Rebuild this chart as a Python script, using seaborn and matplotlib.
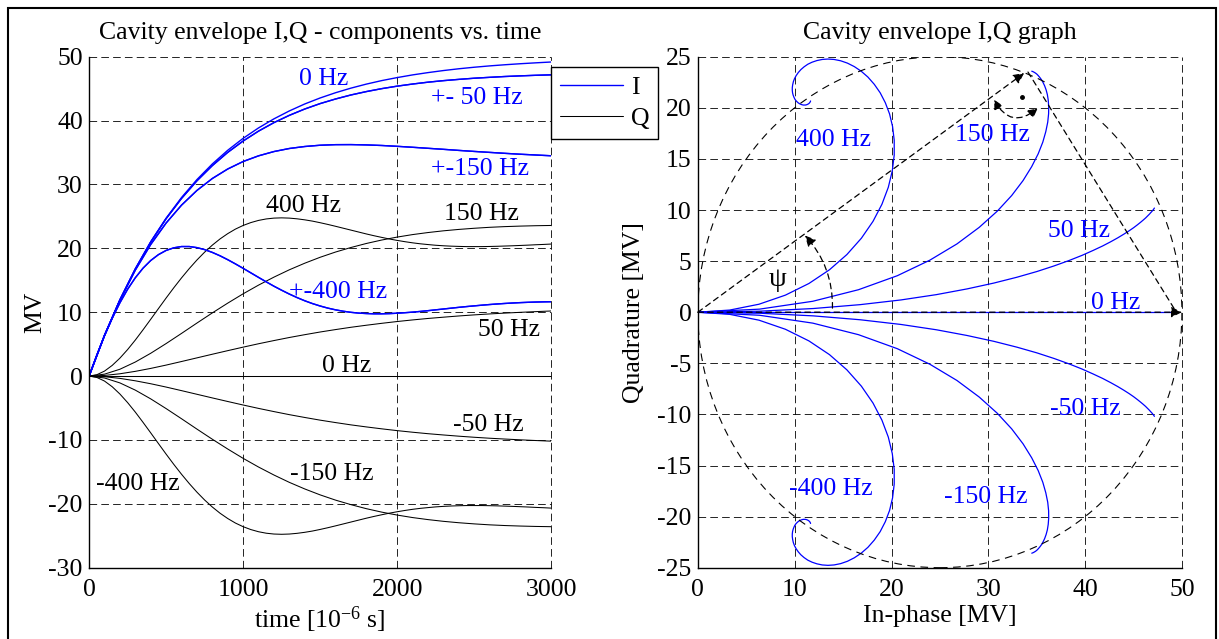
import matplotlib
matplotlib.use("Agg")
import matplotlib.pyplot as plt
import numpy as np
import pandas as pd
import seaborn as sns
from matplotlib.lines import Line2D
from matplotlib.patches import Ellipse, Rectangle

# ---------------- data ----------------
time_us = [0, 100, 200, 300, 400, 500, 600, 700, 800, 900, 1000,
           1100, 1200, 1300, 1400, 1500, 1600, 1700, 1800, 1900, 2000,
           2100, 2200, 2300, 2400, 2500, 2600, 2700, 2800, 2900, 3000]
time_us_fine = [0, 50, 100, 150, 200, 250, 300, 350, 400, 450, 500, 550, 600,
                650, 700, 750, 800, 850, 900, 950, 1000, 1050, 1100, 1150, 1200,
                1250, 1300, 1350, 1400, 1450, 1500, 1550, 1600, 1650, 1700, 1750,
                1800, 1850, 1900, 1950, 2000, 2050, 2100, 2150, 2200, 2250, 2300,
                2350, 2400, 2450, 2500, 2550, 2600, 2650, 2700, 2750, 2800, 2850,
                2900, 2950, 3000]

I_0hz = [0, 6.38, 11.94, 16.79, 21.03, 24.72, 27.95, 30.76, 33.21, 35.35, 37.22,
         38.85, 40.27, 41.51, 42.60, 43.54, 44.36, 45.08, 45.71, 46.26, 46.73,
         47.15, 47.51, 47.83, 48.11, 48.35, 48.56, 48.74, 48.90, 49.04, 49.17]
Q_0hz = [0.0] * 31

I_50hz = [0, 6.38, 11.93, 16.77, 20.98, 24.64, 27.81, 30.57, 32.95, 35.02, 36.80,
          38.35, 39.68, 40.82, 41.81, 42.66, 43.38, 44.01, 44.54, 45.00, 45.39,
          45.72, 46.01, 46.25, 46.45, 46.63, 46.77, 46.90, 47.00, 47.09, 47.16]
Q_50hz = [0, 0.10, 0.36, 0.74, 1.20, 1.72, 2.28, 2.85, 3.42, 3.98, 4.53,
          5.06, 5.56, 6.04, 6.48, 6.90, 7.28, 7.64, 7.96, 8.26, 8.54,
          8.79, 9.02, 9.22, 9.41, 9.58, 9.73, 9.86, 9.98, 10.09, 10.19]

I_150hz = [0, 6.37, 11.87, 16.59, 20.60, 23.96, 26.76, 29.06, 30.93, 32.42, 33.59,
           34.48, 35.15, 35.63, 35.94, 36.14, 36.23, 36.24, 36.19, 36.10, 35.97,
           35.82, 35.66, 35.50, 35.33, 35.17, 35.02, 34.87, 34.73, 34.61, 34.49]
Q_150hz = [0, 0.30, 1.07, 2.20, 3.57, 5.09, 6.68, 8.30, 9.89, 11.42, 12.88,
           14.24, 15.49, 16.64, 17.67, 18.60, 19.42, 20.13, 20.76, 21.30, 21.76,
           22.15, 22.47, 22.74, 22.96, 23.14, 23.29, 23.40, 23.48, 23.54, 23.58]

I_400hz = [0, 3.29, 6.31, 9.04, 11.47, 13.59, 15.39, 16.89, 18.09, 19.01, 19.67,
           20.08, 20.28, 20.28, 20.11, 19.80, 19.36, 18.83, 18.22, 17.56, 16.87,
           16.16, 15.45, 14.75, 14.07, 13.44, 12.84, 12.29, 11.79, 11.35, 10.97,
           10.64, 10.37, 10.15, 9.98, 9.86, 9.79, 9.75, 9.75, 9.78, 9.84,
           9.92, 10.01, 10.12, 10.24, 10.37, 10.50, 10.63, 10.76, 10.88, 10.99,
           11.10, 11.20, 11.29, 11.37, 11.44, 11.50, 11.55, 11.59, 11.62, 11.64]
Q_400hz = [0, 0.21, 0.78, 1.67, 2.81, 4.15, 5.64, 7.24, 8.89, 10.56, 12.22,
           13.83, 15.37, 16.82, 18.17, 19.40, 20.50, 21.47, 22.30, 23.01, 23.58,
           24.03, 24.37, 24.60, 24.73, 24.77, 24.73, 24.62, 24.46, 24.26, 24.01,
           23.74, 23.45, 23.15, 22.85, 22.55, 22.25, 21.97, 21.71, 21.46, 21.24,
           21.04, 20.86, 20.71, 20.59, 20.48, 20.40, 20.34, 20.30, 20.27, 20.27,
           20.27, 20.29, 20.32, 20.36, 20.40, 20.45, 20.50, 20.56, 20.61, 20.67]

detunings = ["0 Hz", "50 Hz", "-50 Hz", "150 Hz", "-150 Hz", "400 Hz", "-400 Hz"]
time_series = [time_us, time_us, time_us, time_us, time_us, time_us_fine, time_us_fine]
I_series = [I_0hz, I_50hz, I_50hz, I_150hz, I_150hz, I_400hz, I_400hz]
Q_series = [Q_0hz, Q_50hz, [-q for q in Q_50hz], Q_150hz, [-q for q in Q_150hz],
            Q_400hz, [-q for q in Q_400hz]]

left_xticks = [0, 1000, 2000, 3000]
left_yticks = [-30, -20, -10, 0, 10, 20, 30, 40, 50]
right_xticks = [0, 10, 20, 30, 40, 50]
right_yticks = [-25, -20, -15, -10, -5, 0, 5, 10, 15, 20, 25]

frames = []
for name, tv, iv, qv in zip(detunings, time_series, I_series, Q_series):
    frames.append(pd.DataFrame({"time": tv, "I": iv, "Q": qv, "detuning": name}))
df = pd.concat(frames, ignore_index=True)

# ---------------- style ----------------
sns.set_theme(style="white")
plt.rcParams.update({
    "font.family": ["Liberation Serif", "DejaVu Serif"],
    "font.size": 18.5,
    "mathtext.fontset": "custom",
    "mathtext.rm": "Liberation Serif",
    "mathtext.it": "Liberation Serif:italic",
    "mathtext.default": "regular",
    "axes.unicode_minus": False,
    "lines.scale_dashes": False,
    "text.color": "black",
    "axes.labelcolor": "black",
    "xtick.color": "black",
    "ytick.color": "black",
})

BLUE = "#0000ff"
FS = 18.5
W, H = 1219, 639
fig = plt.figure(figsize=(W / 100, H / 100), dpi=100)
fig.patch.set_facecolor("white")

ax1 = fig.add_axes([89.1 / W, 1 - 567.7 / H, 462.1 / W, 511 / H])
ax2 = fig.add_axes([697.9 / W, 1 - 567.7 / H, 484 / W, 511 / H])

grid_kw = dict(color="black", linewidth=0.6, linestyle=(0, (5.5, 3.0)))

for ax in (ax1, ax2):
    ax.set_facecolor("white")
    for s in ("top", "right"):
        ax.spines[s].set_visible(False)
    for s in ("left", "bottom"):
        ax.spines[s].set_color("black")
        ax.spines[s].set_linewidth(1.0)
    ax.grid(True, **grid_kw)
    ax.set_axisbelow(True)
    ax.tick_params(axis="both", length=0, labelsize=FS)
    ax.tick_params(axis="y", pad=4.5)
    ax.tick_params(axis="x", pad=8)

# ---------------- left: I, Q vs time ----------------
sns.lineplot(data=df, x="time", y="Q", units="detuning", estimator=None,
             color="black", linewidth=0.75, ax=ax1, legend=False)
sns.lineplot(data=df, x="time", y="I", units="detuning", estimator=None,
             color=BLUE, linewidth=1.0, ax=ax1, legend=False)
ax1.set_xlim(0, 3000)
ax1.set_ylim(-30, 50)
ax1.set_xticks(left_xticks)
ax1.set_yticks(left_yticks)
ax1.set_title("Cavity envelope I,Q - components vs. time", fontsize=FS, pad=12.5)
ax1.set_ylabel("MV", fontsize=FS)
ax1.set_xlabel("time [10$^{-6}$ s]", fontsize=FS)
ax1.yaxis.set_label_coords(-0.093, 0.5)
ax1.xaxis.set_label_coords(0.5, -0.1186)
ax1.xaxis.label.set_verticalalignment("baseline")

left_texts = [
    ("0 Hz", 1361, 45.6, BLUE), ("+- 50 Hz", 2220, 42.6, BLUE),
    ("+-150 Hz", 2220, 31.5, BLUE), ("400 Hz", 1149, 25.7, "black"),
    ("150 Hz", 2301, 24.4, "black"), ("+-400 Hz", 1296, 12.2, BLUE),
    ("50 Hz", 2523, 6.2, "black"), ("0 Hz", 1513, 0.7, "black"),
    ("-50 Hz", 2363, -8.6, "black"), ("-150 Hz", 1304, -16.3, "black"),
    ("-400 Hz", 45, -17.8, "black"),
]
for s, x, y, c in left_texts:
    ax1.text(x, y, s, color=c, fontsize=FS, ha="left", va="baseline")

# ---------------- right: I/Q plane ----------------
circle = Ellipse((25, 0), 50, 50, fill=False, edgecolor="black", linewidth=0.8,
                 linestyle=(0, (5.5, 4.0)), zorder=3)
ax2.add_patch(circle)
sns.lineplot(data=df, x="I", y="Q", units="detuning", estimator=None, sort=False,
             color=BLUE, linewidth=0.9, ax=ax2, legend=False)
ax2.set_xlim(0, 50)
ax2.set_ylim(-25, 25)
ax2.set_xticks(right_xticks)
ax2.set_yticks(right_yticks)
ax2.set_title("Cavity envelope I,Q graph", fontsize=FS, pad=12.5)
ax2.set_ylabel("Quadrature [MV]", fontsize=FS)
ax2.set_xlabel("In-phase [MV]", fontsize=FS)
ax2.yaxis.set_label_coords(-0.109, 0.5)
ax2.xaxis.set_label_coords(0.5, -0.106)
ax2.xaxis.label.set_verticalalignment("baseline")

arrow_kw = dict(arrowstyle="-|>", color="black", linewidth=0.9,
                linestyle=(0, (4.0, 3.0)), mutation_scale=16,
                shrinkA=0, shrinkB=0)
# along the real axis
ax2.annotate("", xy=(50, 0), xytext=(0, 0), arrowprops=arrow_kw, zorder=5)
# to the steady-state point of 150 Hz
ax2.annotate("", xy=(33.7, 23.4), xytext=(0, 0), arrowprops=arrow_kw, zorder=5)
# from that point down to (50, 0)
ax2.annotate("", xy=(49.3, 0.2), xytext=(34.1, 23.5),
             arrowprops=dict(arrowstyle="-", color="black", linewidth=0.9,
                             linestyle=(0, (4.0, 3.0)), shrinkA=0, shrinkB=0), zorder=5)
# psi angle arc
ax2.annotate("", xy=(11.06, 7.5), xytext=(13.9, 0.4),
             arrowprops=dict(arrowstyle="-|>", color="black", linewidth=0.9,
                             linestyle=(0, (4.0, 3.0)), mutation_scale=16,
                             shrinkA=0, shrinkB=0,
                             connectionstyle="arc3,rad=0.2"), zorder=5)
# right-angle arc
ax2.annotate("", xy=(35.1, 19.95), xytext=(30.6, 20.8),
             arrowprops=dict(arrowstyle="<|-|>", color="black", linewidth=0.9,
                             linestyle=(0, (4.0, 3.0)), mutation_scale=14,
                             shrinkA=0, shrinkB=0,
                             connectionstyle="arc3,rad=0.6"), zorder=5)
ax2.plot([33.44], [21.08], marker="o", markersize=2.5, color="black", zorder=6)

right_texts = [
    ("400 Hz", 10.15, 16.3), ("150 Hz", 26.6, 16.8), ("50 Hz", 36.2, 7.4),
    ("0 Hz", 40.6, 0.35), ("-50 Hz", 36.4, -10.1), ("-400 Hz", 9.46, -17.9),
    ("-150 Hz", 25.4, -18.7),
]
for s, x, y in right_texts:
    ax2.text(x, y, s, color=BLUE, fontsize=FS, ha="left", va="baseline", zorder=7)
ax2.text(8.2, 3.2, "ψ", color="black", fontsize=FS + 2, ha="center", va="center")

for ax in (ax1, ax2):
    for ln in ax.get_xgridlines() + ax.get_ygridlines():
        ln.set_clip_on(False)

# ---------------- legend ----------------
handles = [Line2D([], [], color=BLUE, linewidth=1.0),
           Line2D([], [], color="black", linewidth=0.75)]
leg = fig.legend(handles, ["I", "Q"], loc="upper left",
                 bbox_to_anchor=(551 / W, 1 - 67 / H), bbox_transform=fig.transFigure,
                 borderaxespad=0, frameon=True, fancybox=False, framealpha=1,
                 edgecolor="black", facecolor="white", fontsize=FS,
                 handlelength=2.45, handletextpad=0.3, labelspacing=0.32,
                 borderpad=0.35)
leg.get_frame().set_linewidth(1.0)

# ---------------- outer frame ----------------
fig.patches.append(Rectangle((8 / W, -0.05), (1216 - 8) / W, (1 - 8 / H) + 0.05,
                             transform=fig.transFigure, fill=False,
                             edgecolor="black", linewidth=1.5, clip_on=False))

fig.savefig("out.png", dpi=100)
